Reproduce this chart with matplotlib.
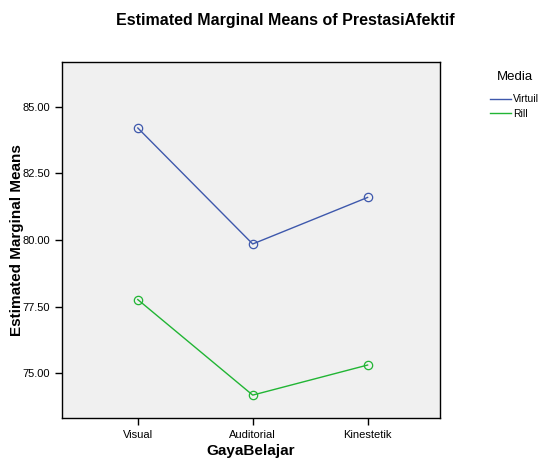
import matplotlib.pyplot as plt
from matplotlib.lines import Line2D

categories = ["Visual", "Auditorial", "Kinestetik"]
virtuil = [84.21, 79.85, 81.60]
rill = [77.76, 74.17, 75.30]
series_names = ["Virtuil", "Rill"]

plt.rcParams['font.family'] = ['Liberation Sans', 'DejaVu Sans']

fig = plt.figure(figsize=(5.38, 4.61), dpi=100)
ax = fig.add_axes([0.1152, 0.0933, 0.7026, 0.7722])
ax.set_facecolor('#f0f0f0')

colors = ['#3e58ac', '#21b534']
x = list(range(len(categories)))
for vals, c in zip([virtuil, rill], colors):
    ax.plot(x, vals, color=c, lw=1.0, marker='o', markersize=6,
            markerfacecolor='none', markeredgecolor=c, markeredgewidth=0.9)

ax.set_xlim(-0.66, 2.63)
ax.set_ylim(73.31, 86.69)
ax.set_xticks(x)
ax.set_xticklabels(categories, fontsize=8)
ax.set_yticks([75, 77.5, 80, 82.5, 85])
ax.set_yticklabels(["75.00", "77.50", "80.00", "82.50", "85.00"], fontsize=8)
ax.tick_params(direction='out', length=5, width=1, colors='black')
for s in ax.spines.values():
    s.set_linewidth(1)

ax.set_xlabel("GayaBelajar", fontsize=11, fontweight='bold', va='center')
ax.xaxis.set_label_coords(0.5, -0.092)
ax.set_ylabel("Estimated Marginal Means", fontsize=11, fontweight='bold')
ax.yaxis.set_label_coords(-0.10, 0.5)
fig.text(0.53, 0.955, "Estimated Marginal Means of PrestasiAfektif",
         ha='center', va='center', fontsize=11.5, fontweight='bold')

handles = [Line2D([0], [0], color=c, lw=1.0) for c in colors]
leg = fig.legend(handles, series_names, title="Media", loc='upper left',
                 bbox_to_anchor=(0.893, 0.866), frameon=False, fontsize=7.5,
                 title_fontsize=9.5, handlelength=2.0, handletextpad=0.25,
                 labelspacing=0.45)
leg._legend_box.sep = 8

fig.savefig("out.png", dpi=100)
